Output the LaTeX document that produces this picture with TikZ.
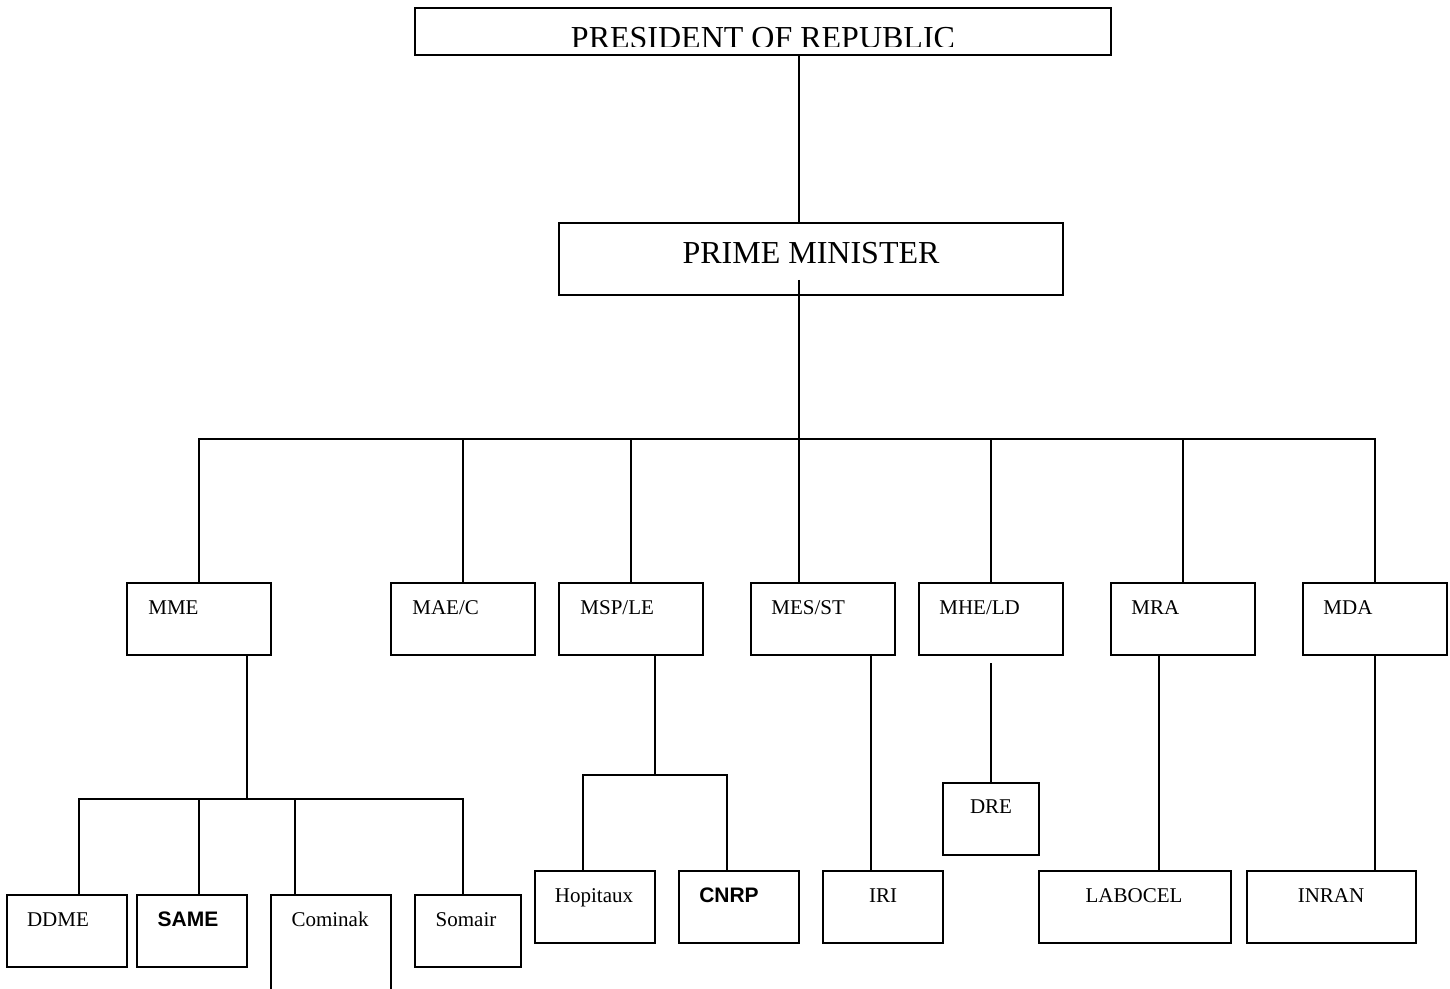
\documentclass[tikz,border=0pt]{standalone}
\usepackage{fontspec}
\setmainfont{Liberation Serif}
\setsansfont{Liberation Sans}
\begin{document}
\begin{tikzpicture}[x=0.5pt,y=-0.5pt,
  box/.style={draw,line width=1pt,inner sep=0pt,minimum height=36pt},
  conn/.style={line width=1pt},
  lbl/.style={anchor=base,inner sep=0pt,font=\fontsize{10.5}{12}\selectfont},
  lblw/.style={anchor=base west,inner sep=0pt,font=\fontsize{10.5}{12}\selectfont},
  lblb/.style={anchor=base,inner sep=0pt,font=\sffamily\bfseries\fontsize{10.5}{12}\selectfont}]
\clip (0,0) rectangle (1450,989);
\fill[white] (0,0) rectangle (1450,989);
% top
\node[box,minimum width=348pt,minimum height=23.5pt] (pres) at (763,31.5) {};
\begin{scope}
\clip (415,8) rectangle (1111,46.5);
\node[anchor=base,inner sep=0pt,font=\fontsize{16}{19}\selectfont] (prest) at (763,49) {PRESIDENT OF REPUBLIC};
\end{scope}
\node[box,minimum width=252pt] (pm) at (811,259) {};
\node[anchor=base,inner sep=0pt,font=\fontsize{16}{19}\selectfont] (pmt) at (811,264) {PRIME MINISTER};
% ministries
\node[box,minimum width=72pt] (mme) at (199,619) {};
\node[box,minimum width=72pt] (mae) at (463,619) {};
\node[box,minimum width=72pt] (msp) at (631,619) {};
\node[box,minimum width=72pt] (mes) at (823,619) {};
\node[box,minimum width=72pt] (mhe) at (991,619) {};
\node[box,minimum width=72pt] (mra) at (1183,619) {};
\node[box,minimum width=72pt] (mda) at (1375,619) {};
\node[lblw] (mmet) at (148,614) {MME};
\node[lblw] (maet) at (412,614) {MAE/C};
\node[lblw] (mspt) at (580,614) {MSP/LE};
\node[lblw] (mest) at (771,614) {MES/ST};
\node[lblw] (mhet) at (939,614) {MHE/LD};
\node[lblw] (mrat) at (1131,614) {MRA};
\node[lblw] (mdat) at (1323,614) {MDA};
% sub units row 1
\node[box,minimum width=60pt] (ddme) at (67,931) {};
\node[box,minimum width=55pt] (same) at (192,931) {};
\node[box,minimum width=60pt,minimum height=60pt] (cominak) at (331,955) {};
\node[box,minimum width=53pt] (somair) at (468,931) {};
\node[lbl] (ddmet) at (58,926) {DDME};
\node[lblb] (samet) at (188,926) {SAME};
\node[lbl] (cominakt) at (330,926) {Cominak};
\node[lbl] (somairt) at (466,926) {Somair};
% sub units row 2
\node[box,minimum width=60pt] (hop) at (595,907) {};
\node[box,minimum width=60pt] (cnrp) at (739,907) {};
\node[box,minimum width=60pt] (iri) at (883,907) {};
\node[box,minimum width=48pt] (dre) at (991,819) {};
\node[box,minimum width=96pt] (labocel) at (1135,907) {};
\node[box,minimum width=84.5pt] (inran) at (1331.5,907) {};
\node[lbl] (hopt) at (594,902) {Hopitaux};
\node[lblb] (cnrpt) at (729,902) {CNRP};
\node[lbl] (irit) at (883,902) {IRI};
\node[lbl] (dret) at (991,813) {DRE};
\node[lbl] (labocelt) at (1134,902) {LABOCEL};
\node[lbl] (inrant) at (1331,902) {INRAN};
% junction coordinates
\coordinate (j) at (799,439);
\coordinate (pmstart) at (799,280);
\coordinate (mmej) at (247,799);
\coordinate (bd1) at (79,799);
\coordinate (bd2) at (199,799);
\coordinate (bd3) at (295,799);
\coordinate (bd4) at (463,799);
\coordinate (mspj) at (655,775);
\coordinate (bh1) at (583,775);
\coordinate (bh2) at (727,775);
\coordinate (iriline) at (871,700);
\coordinate (drestart) at (991,663);
\coordinate (labline) at (1159,700);
% connectors
\draw[conn] (pres.south -| j) -- (pm.north -| j);
\draw[conn] (pmstart) -- (j);
\draw[conn] (mme.north) |- (mda.north |- j) -- (mda.north);
\draw[conn] (mae.north |- j) -- (mae.north);
\draw[conn] (msp.north |- j) -- (msp.north);
\draw[conn] (j) -- (mes.north -| j);
\draw[conn] (mhe.north |- j) -- (mhe.north);
\draw[conn] (mra.north |- j) -- (mra.north);
\draw[conn] (mme.south -| mmej) -- (mmej);
\draw[conn] (ddme.north -| bd1) -- (bd1) -- (bd4) -- (somair.north -| bd4);
\draw[conn] (bd2) -- (same.north -| bd2);
\draw[conn] (bd3) -- (cominak.north -| bd3);
\draw[conn] (msp.south -| mspj) -- (mspj);
\draw[conn] (hop.north -| bh1) -- (bh1) -- (bh2) -- (cnrp.north -| bh2);
\draw[conn] (mes.south -| iriline) -- (iri.north -| iriline);
\draw[conn] (drestart) -- (dre.north);
\draw[conn] (mra.south -| labline) -- (labocel.north -| labline);
\draw[conn] (mda.south) -- (inran.north -| mda.south);
\end{tikzpicture}
\end{document}
